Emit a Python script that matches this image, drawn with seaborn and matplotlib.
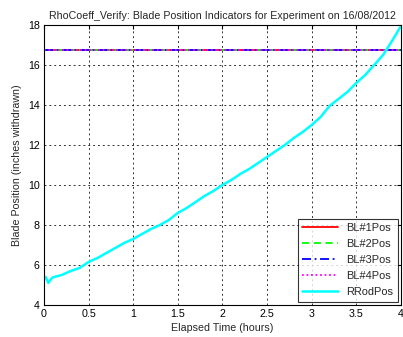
import matplotlib
matplotlib.use("Agg")
import matplotlib.pyplot as plt
import numpy as np
import pandas as pd
import seaborn as sns

sns.set_style("white")
plt.rcParams['font.family'] = ['Liberation Sans', 'DejaVu Sans']

# elapsed time (hours) and rod position
hours = [0.0, 0.02, 0.05, 0.08, 0.1, 0.2, 0.3, 0.4, 0.5, 0.6, 0.7, 0.8, 0.9,
         1.0, 1.1, 1.2, 1.3, 1.4, 1.5, 1.6, 1.7, 1.8, 1.9, 2.0, 2.1, 2.2,
         2.3, 2.4, 2.5, 2.6, 2.7, 2.8, 2.9, 3.0, 3.1, 3.2, 3.3, 3.4, 3.5,
         3.6, 3.7, 3.8, 3.9, 4.0]
rrod_pos = [5.3, 5.4, 5.1, 5.3, 5.38, 5.5, 5.7, 5.85, 6.15, 6.35, 6.6, 6.85,
            7.1, 7.3, 7.55, 7.8, 8.0, 8.25, 8.6, 8.85, 9.15, 9.45, 9.7, 10.0,
            10.25, 10.55, 10.8, 11.1, 11.4, 11.7, 12.0, 12.35, 12.65, 13.0,
            13.4, 13.95, 14.3, 14.65, 15.1, 15.5, 16.0, 16.5, 17.2, 17.95]

# the four blades sit still for the whole run
blade_names = ["BL#1Pos", "BL#2Pos", "BL#3Pos", "BL#4Pos"]
blade_pos = [16.75, 16.75, 16.75, 16.75]
blade_colors = ["#ff0000", "#00ff00", "#0000ff", "#ff00ff"]
blade_styles = ["-", (0, (4, 2.5)), (0, (5, 2, 1, 2)), (0, (1, 1.5))]

fig = plt.figure(figsize=(4.03, 3.37), dpi=100)
ax = fig.add_axes([0.109, 0.095, 0.886, 0.831])

for i, name in enumerate(blade_names):
    df = pd.DataFrame({"t": [hours[0], hours[-1]], "pos": [blade_pos[i]] * 2})
    sns.lineplot(data=df, x="t", y="pos", ax=ax, color=blade_colors[i],
                 linestyle=blade_styles[i], linewidth=1.3, label=name)

rod = pd.DataFrame({"t": hours, "pos": rrod_pos})
sns.lineplot(data=rod, x="t", y="pos", ax=ax, color="#00ffff",
             linewidth=1.8, label="RRodPos")

ax.set_xlim(0, 4)
ax.set_ylim(4, 18)
ax.set_xticks(np.arange(0, 4.01, 0.5))
ax.set_xticklabels(["0", "0.5", "1", "1.5", "2", "2.5", "3", "3.5", "4"])
ax.set_yticks(np.arange(4, 18.1, 2))
ax.grid(True, color="black", linestyle=(0, (2, 3)), linewidth=0.7, alpha=0.8)
for s in ax.spines.values():
    s.set_color("black")
    s.set_linewidth(0.8)
ax.tick_params(direction="in", top=True, right=True, length=3, labelsize=7.7,
               pad=3, colors="black")

ax.set_title("RhoCoeff_Verify: Blade Position Indicators for Experiment on 16/08/2012",
             fontsize=7.7, pad=4)
ax.set_xlabel("Elapsed Time (hours)", fontsize=7.7, labelpad=3)
ax.set_ylabel("Blade Position (inches withdrawn)", fontsize=7.7, labelpad=4)

leg = ax.legend(loc="lower right", fontsize=7.9, frameon=True, fancybox=False,
                borderaxespad=0.3, handlelength=3.2, labelspacing=0.55,
                borderpad=0.4)
leg.get_frame().set_edgecolor("black")
leg.get_frame().set_linewidth(0.8)

fig.savefig("out.png", dpi=100)
